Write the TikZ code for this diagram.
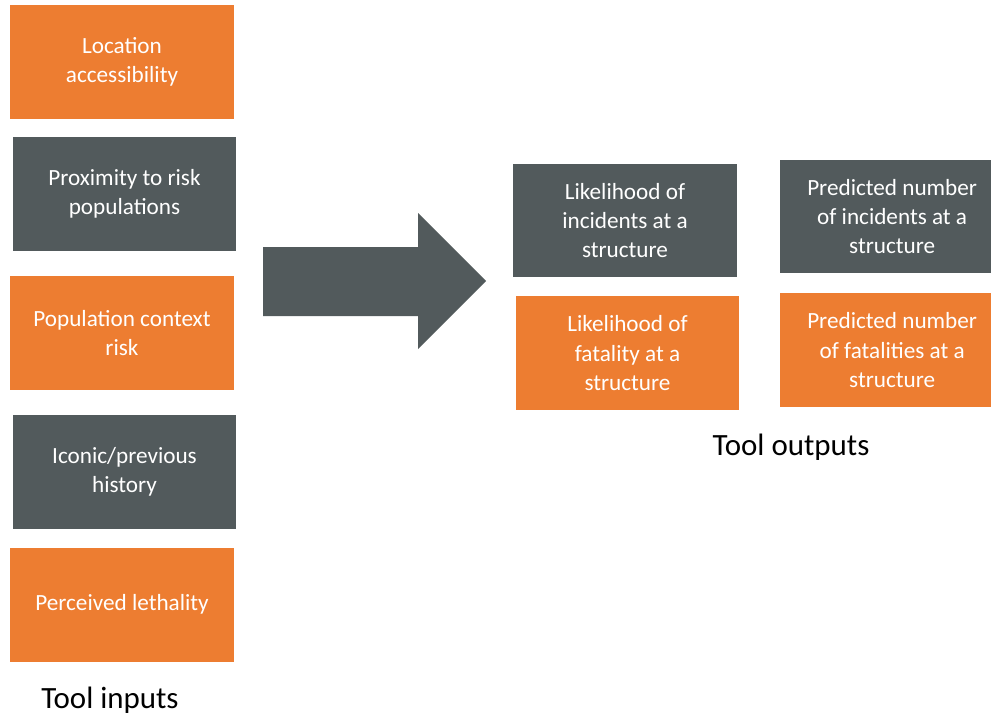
\documentclass[tikz,border=0pt]{standalone}
\usepackage{fontspec}
\setmainfont{Carlito}
\usepackage{xcolor}
\usetikzlibrary{positioning}

\definecolor{boxorange}{RGB}{237,125,49}
\definecolor{boxgrey}{RGB}{82,90,92}

\tikzset{
  toolbox/.style={rectangle, minimum width=4.48cm, minimum height=2.28cm, inner sep=0pt,
    align=center, text=white, font=\fontsize{13.2}{16.6}\selectfont},
  orangebox/.style={toolbox, fill=boxorange},
  greybox/.style={toolbox, fill=boxgrey},
  caption/.style={font=\fontsize{17.6}{21}\selectfont}
}

\begin{document}
\begin{tikzpicture}[x=0.02cm, y=-0.02cm]
					\clip (0,0) rectangle (991,717);

					% tool inputs
					\node[orangebox] (loc) at (122,62) {Location\\accessibility};
					\node[greybox] (prox)[below=0.34cm of loc, xshift=0.05cm] {Proximity to risk\\populations};
					\node[orangebox] (pop)[below=0.5cm of prox, xshift=-0.05cm] {Population context\\risk};
					\node[greybox] (icon)[below=0.48cm of pop, xshift=0.05cm] {Iconic/previous\\history};
					\node[orangebox] (leth)[below=0.36cm of icon, xshift=-0.05cm] {Perceived lethality};
					\node[caption] (inputs) at (110,700) {Tool inputs};

					% big arrow
					\fill[boxgrey] (263,247) -- (418,247) -- (418,213) -- (486,281)
						-- (418,349) -- (418,316) -- (263,316) -- cycle;

					% tool outputs
					\node[greybox] (likinc) at (625,220.5) {Likelihood of\\incidents at a\\structure};
					\node[orangebox] (likfat)[below=0.36cm of likinc, xshift=0.05cm] {Likelihood of\\fatality at a\\structure};
					\node[greybox, minimum width=4.5cm] (predinc)[right=0.84cm of likinc, yshift=0.08cm] {Predicted number\\of incidents at a\\structure};
					\node[orangebox, minimum width=4.5cm] (predfat)[below=0.38cm of predinc] {Predicted number\\of fatalities at a\\structure};
					\node[caption] (outputs) at (791,447) {Tool outputs};
				\end{tikzpicture}
\end{document}
